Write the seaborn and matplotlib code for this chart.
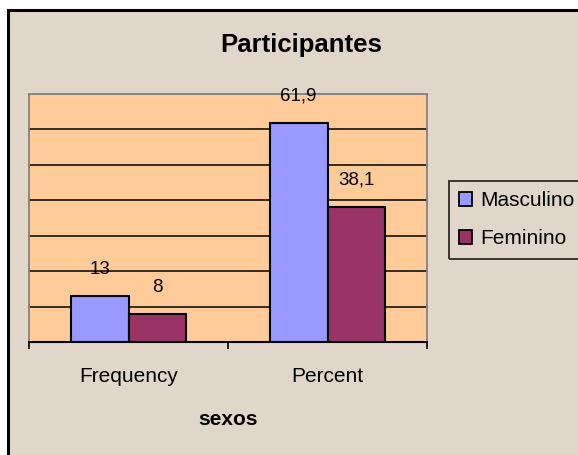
import pandas as pd
import matplotlib
matplotlib.use("Agg")
import matplotlib.pyplot as plt
from matplotlib.patches import Rectangle
import seaborn as sns

# data
categories = ["Frequency", "Percent"]
series = ["Masculino", "Feminino"]
masculino = [13, 61.9]
feminino = [8, 38.1]
colors = ["#9999FF", "#993366"]

df = pd.DataFrame({
    "categoria": categories * 2,
    "sexo": [series[0]] * 2 + [series[1]] * 2,
    "valor": masculino + feminino,
})

sns.set_style("white")
plt.rcParams["font.family"] = ["Liberation Sans", "DejaVu Sans"]
plt.rcParams["text.color"] = "black"
plt.rcParams["axes.labelcolor"] = "black"
plt.rcParams["xtick.color"] = "black"

fig = plt.figure(figsize=(5.78, 4.55), dpi=100)
fig.patch.set_facecolor("white")

# beige chart area with black frame (right/bottom edges run off the image)
fig.add_artist(Rectangle((8 / 578, -0.02), 1.1, 1.02 - 10 / 455,
                         transform=fig.transFigure, facecolor="#E0D7CA",
                         edgecolor="black", linewidth=2.2, zorder=-1))

ax = fig.add_axes([29 / 578, 1 - 342 / 455, 398 / 578, 248 / 455])
ax.set_facecolor("#FFCC99")

sns.barplot(data=df, x="categoria", y="valor", hue="sexo", palette=colors,
            saturation=1, width=0.58, edgecolor="black", linewidth=1.5,
            ax=ax, zorder=3)

ax.set_ylim(0, 70)
ax.set_xlim(-0.5, 1.5)
ax.set_yticks(range(10, 70, 10))
ax.set_yticklabels([])
ax.tick_params(axis="y", length=0)
ax.yaxis.grid(True, color="black", linewidth=1.1)
ax.set_axisbelow(True)
ax.set_ylabel("")

# tick marks at category boundaries, labels at centres
ax.set_xticks([0, 1])
ax.set_xticklabels(categories, fontsize=15)
ax.set_xticks([-0.5, 0.5, 1.5], minor=True)
ax.tick_params(axis="x", which="major", length=0, pad=18, labelcolor="black")
ax.tick_params(axis="x", which="minor", length=5, width=1.2, color="black",
               direction="out", bottom=True)
ax.set_xlabel("sexos", fontsize=15, fontweight="bold", labelpad=17,
              color="black")

for side in ["left", "top", "right"]:
    ax.spines[side].set_color("#808080")
    ax.spines[side].set_linewidth(1.3)
ax.spines["bottom"].set_color("black")
ax.spines["bottom"].set_linewidth(1.5)

for cont, vals in zip(ax.containers, [masculino, feminino]):
    ax.bar_label(cont, labels=[f"{v:g}".replace(".", ",") for v in vals],
                 padding=13, fontsize=13.5, color="black")

fig.text(301 / 578, 1 - 45 / 455, "Participantes", ha="center", va="center",
         fontsize=18.5, fontweight="bold", color="black")

handles, labels = ax.get_legend_handles_labels()
leg = ax.legend(handles, labels, loc="upper left",
                bbox_to_anchor=(449 / 578, 1 - 181 / 455),
                bbox_transform=fig.transFigure, fontsize=15, frameon=True,
                fancybox=False, edgecolor="black", facecolor="none",
                handlelength=0.62, handleheight=0.62, handletextpad=0.4,
                labelspacing=0.9, borderpad=0.5, borderaxespad=0)
leg.get_frame().set_linewidth(1.3)
for h in leg.legend_handles:
    h.set_edgecolor("black")
    h.set_linewidth(1.3)
for t in leg.get_texts():
    t.set_color("black")

fig.savefig("out.png", dpi=100)
